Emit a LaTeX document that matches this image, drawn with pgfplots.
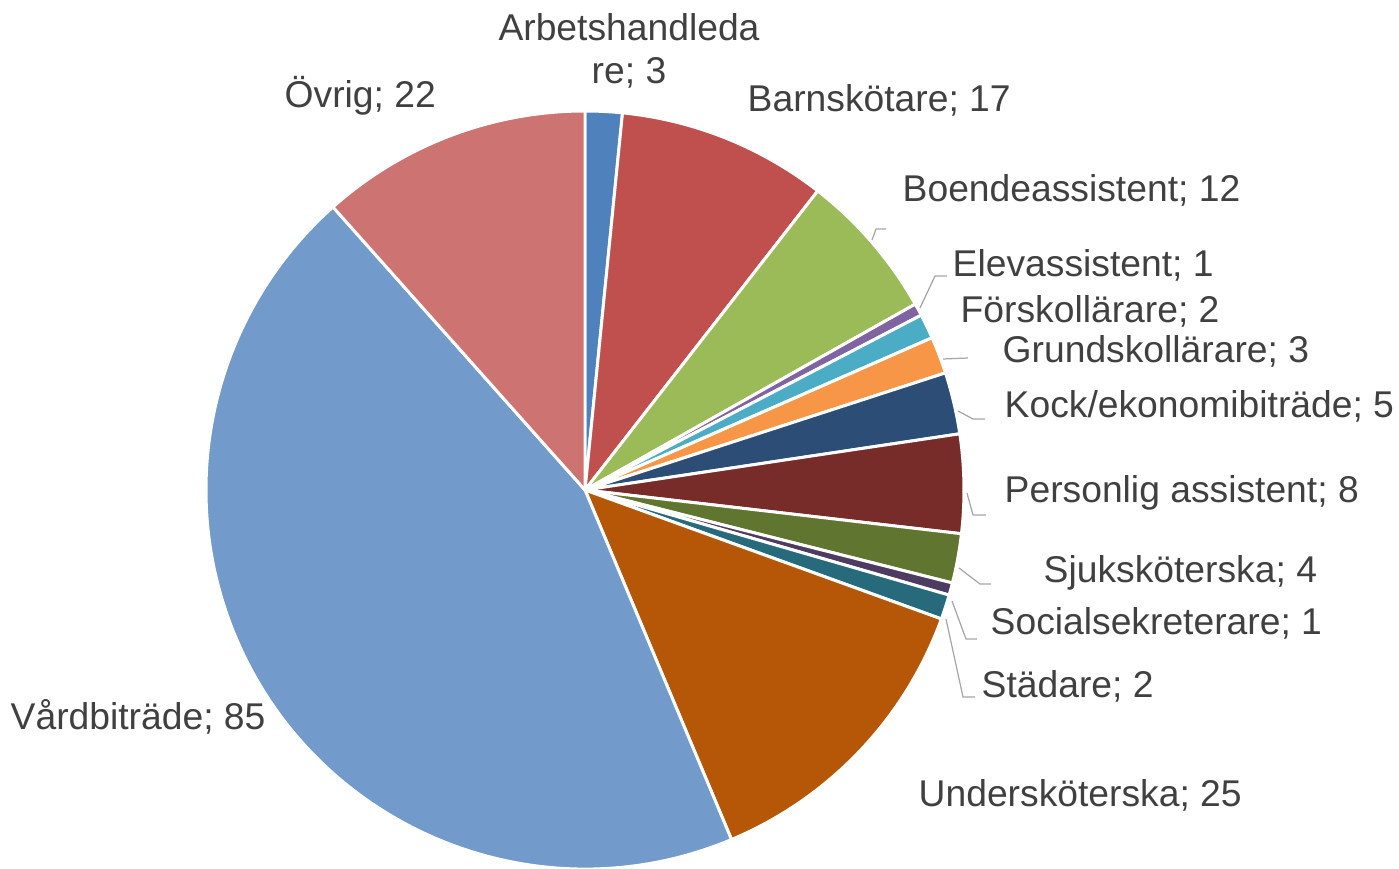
\documentclass[border=0pt]{standalone}
\usepackage{fontspec}
\setmainfont{Liberation Sans}
\usepackage{pgfplots}
\usepackage{pgfplotstable}
\pgfplotsset{compat=1.18}

\definecolor{c1}{HTML}{4F81BD}
\definecolor{c2}{HTML}{C0504D}
\definecolor{c3}{HTML}{9BBB59}
\definecolor{c4}{HTML}{8064A2}
\definecolor{c5}{HTML}{4BACC6}
\definecolor{c6}{HTML}{F79646}
\definecolor{c7}{HTML}{2C4D75}
\definecolor{c8}{HTML}{772C2A}
\definecolor{c9}{HTML}{5F7530}
\definecolor{c10}{HTML}{4D3B62}
\definecolor{c11}{HTML}{276A7C}
\definecolor{c12}{HTML}{B65708}
\definecolor{c13}{HTML}{729ACA}
\definecolor{c14}{HTML}{CD7371}
\definecolor{txt}{HTML}{404040}
\definecolor{lead}{HTML}{A6A6A6}

% yrken, antal, fargnamn
\pgfplotstableread[col sep=comma]{
name,value,color
Arbetshandledare,3,c1
Barnskötare,17,c2
Boendeassistent,12,c3
Elevassistent,1,c4
Förskollärare,2,c5
Grundskollärare,3,c6
Kock/ekonomibiträde,5,c7
Personlig assistent,8,c8
Sjuksköterska,4,c9
Socialsekreterare,1,c10
Städare,2,c11
Undersköterska,25,c12
Vårdbiträde,85,c13
Övrig,22,c14
}\piedata

\begin{document}
\begin{tikzpicture}
\begin{axis}[name=ax,width=13.99cm,height=8.69cm,scale only axis,
   xmin=0,xmax=1399,ymin=0,ymax=869,y dir=reverse,
   hide axis,clip=false]
\pgfplotstablegetrowsof{\piedata}
\pgfmathtruncatemacro\nrows{\pgfplotsretval-1}
\def\total{0}
\pgfplotsforeachungrouped \i in {0,...,\nrows}{%
  \pgfplotstablegetelem{\i}{value}\of\piedata
  \pgfmathsetmacro\total{\total+\pgfplotsretval}%
}
\def\cum{0}
\pgfplotsforeachungrouped \i in {0,...,\nrows}{%
  \pgfplotstablegetelem{\i}{value}\of\piedata \let\sval=\pgfplotsretval
  \pgfplotstablegetelem{\i}{color}\of\piedata \let\scol=\pgfplotsretval
  \pgfmathsetmacro\aone{90-\cum/\total*360}%
  \pgfmathsetmacro\cum{\cum+\sval}%
  \pgfmathsetmacro\atwo{90-\cum/\total*360}%
  \edef\temp{\noexpand\fill[\scol,draw=white,line width=0.85pt,line join=round]
    (axis cs:585,490) -- ++(\aone:3.79cm)
    arc[start angle=\aone,end angle=\atwo,radius=3.79cm] -- cycle;}%
  \temp
}
% ledarlinjer
\draw[lead,line width=0.35pt] (axis cs:872,240) -- (axis cs:876,229) -- (axis cs:886,229);
\draw[lead,line width=0.35pt] (axis cs:920,308) -- (axis cs:935,276) -- (axis cs:947,276);
\draw[lead,line width=0.35pt] (axis cs:943,359) -- (axis cs:968,358);
\draw[lead,line width=0.35pt] (axis cs:958,411) -- (axis cs:973,419) -- (axis cs:985,419);
\draw[lead,line width=0.35pt] (axis cs:967,493) -- (axis cs:973,515) -- (axis cs:986,515);
\draw[lead,line width=0.35pt] (axis cs:959,568) -- (axis cs:980,584) -- (axis cs:991,584);
\draw[lead,line width=0.35pt] (axis cs:952,601) -- (axis cs:966,639) -- (axis cs:977,639);
\draw[lead,line width=0.35pt] (axis cs:946,619) -- (axis cs:963,697) -- (axis cs:975,697);
% etiketter
\begin{scope}[every node/.style={text=txt,font=\fontsize{10.6}{12.2}\selectfont,inner sep=0pt}]
\node[align=center] at (axis cs:629,51) {Arbetshandleda\\re; 3};
\node[anchor=west] at (axis cs:747,100) {Barnskötare; 17};
\node[anchor=west] at (axis cs:902,190) {Boendeassistent; 12};
\node[anchor=west] at (axis cs:952,265) {Elevassistent; 1};
\node[anchor=west] at (axis cs:960,311) {Förskollärare; 2};
\node[anchor=west] at (axis cs:1002,351) {Grundskollärare; 3};
\node[anchor=west] at (axis cs:1004,406) {Kock/ekonomibiträde; 5};
\node[anchor=west] at (axis cs:1004,493) {Personlig assistent; 8};
\node[anchor=west] at (axis cs:1043,573) {Sjuksköterska; 4};
\node[anchor=west] at (axis cs:990,623) {Socialsekreterare; 1};
\node[anchor=west] at (axis cs:981,686) {Städare; 2};
\node[anchor=west] at (axis cs:918,795) {Undersköterska; 25};
\node[anchor=west] at (axis cs:10,717) {Vårdbiträde; 85};
\node[anchor=west] at (axis cs:284,96) {Övrig; 22};
\end{scope}
\end{axis}
\pgfresetboundingbox
\path[use as bounding box] (ax.south west) rectangle (ax.north east);
\end{tikzpicture}
\end{document}
